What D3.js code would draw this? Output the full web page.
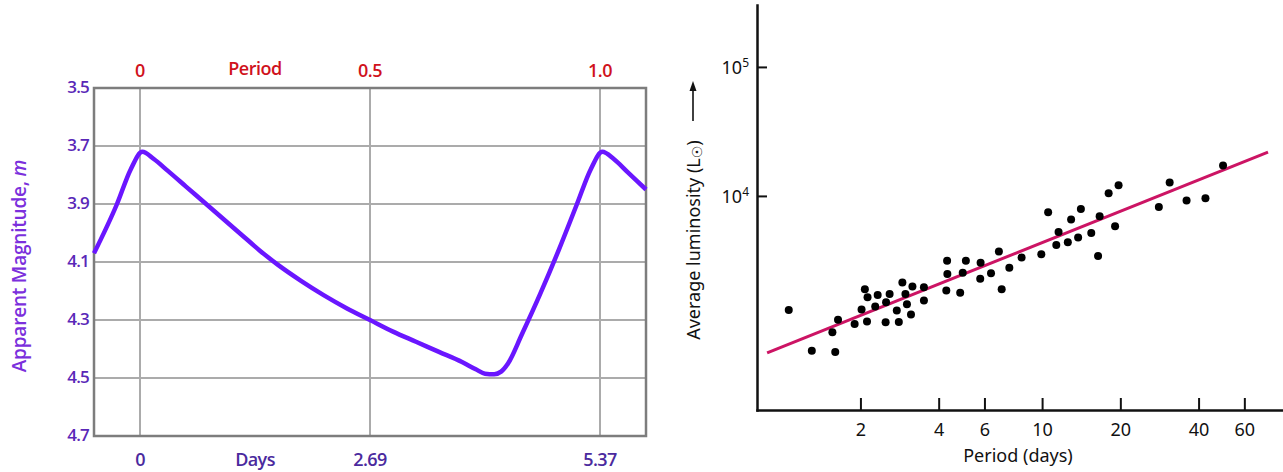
<!DOCTYPE html>
<html>
<head>
<meta charset="utf-8">
<script src="https://cdn.jsdelivr.net/npm/d3@7"></script>
<style>
body { margin: 0; background: #fff; }
svg { display: block; }
</style>
</head>
<body>
<svg id="chart" width="1283" height="472"></svg>
<script>
'use strict';

// ---- light curve (left) ----
var phase = [-0.1, -0.05, -0.02, 0.005, 0.03, 0.06, 0.1, 0.14, 0.18, 0.22, 0.26, 0.30, 0.35, 0.40, 0.45, 0.50,
             0.55, 0.60, 0.65, 0.70, 0.73, 0.75, 0.77, 0.785, 0.80, 0.83, 0.87, 0.91, 0.95, 0.98, 1.005,
             1.03, 1.06, 1.1];
var magnitude = [4.07, 3.90, 3.78, 3.72, 3.745, 3.785, 3.84, 3.895, 3.95, 4.005, 4.06, 4.11, 4.165, 4.215, 4.26, 4.30,
                 4.34, 4.375, 4.41, 4.445, 4.47, 4.485, 4.487, 4.478, 4.45, 4.35, 4.21, 4.06, 3.90, 3.78, 3.72,
                 3.745, 3.79, 3.85];
var magTicks = [3.5, 3.7, 3.9, 4.1, 4.3, 4.5, 4.7];
var phaseTicks = [0, 0.5, 1.0];
var phaseLabels = ["0", "0.5", "1.0"];
var dayLabels = ["0", "2.69", "5.37"];

// ---- period-luminosity (right) ----
var periodDays = [1.06, 1.30, 1.60, 1.56, 1.64, 1.90, 2.02, 2.08, 2.13, 2.12, 2.28, 2.33, 2.50, 2.51, 2.59, 2.76,
                  2.81, 2.90, 2.98, 3.02, 3.13, 3.17, 3.51, 3.51, 4.31, 4.32, 4.28, 4.84, 4.95, 5.09, 5.78, 5.80,
                  6.36, 6.82, 6.99, 7.48, 8.34, 9.93, 11.34, 11.57, 12.56, 12.93, 13.76, 15.46, 16.42, 19.09,
                  10.55, 14.10, 16.65, 18.03, 19.69, 28.13, 30.96, 35.96, 42.51, 49.68];
var luminosity = [1306, 632, 618, 877, 1099, 1018, 1314, 1890, 1640, 1061, 1387, 1709, 1050, 1500, 1738, 1291,
                  1055, 2128, 1738, 1446, 1202, 1982, 1959, 1543, 3150, 2485, 1845, 1778, 2543, 3150, 2275, 3027,
                  2518, 3700, 1890, 2780, 3327, 3532, 4169, 5260, 4375, 6577, 4766, 5168, 3428, 5821,
                  7476, 7930, 6965, 10490, 12100, 8222, 12680, 9200, 9600, 17180];
var fitPeriod = [0.875, 74];
var fitLum = [607, 21880];
var periodTicks = [2, 4, 6, 10, 20, 40, 60];
var lumTicks = [1e4, 1e5];

var svg = d3.select("#chart");
var boldFont = "'Open Sans', sans-serif";
var plainFont = "'Noto Sans', sans-serif";

function drawLightCurve() {
    var x = d3.scaleLinear().domain([-0.1, 1.1]).range([94, 646]);
    var y = d3.scaleLinear().domain([3.5, 4.7]).range([88, 436]);
    var g = svg.append("g");

    // grid
    g.selectAll("line.hgrid")
        .data(magTicks.slice(1, -1))
        .enter().append("line")
        .attr("x1", x(-0.1)).attr("x2", x(1.1))
        .attr("y1", d => y(d)).attr("y2", d => y(d))
        .attr("stroke", "#ababab").attr("stroke-width", 2);
    g.selectAll("line.vgrid")
        .data(phaseTicks)
        .enter().append("line")
        .attr("x1", d => x(d)).attr("x2", d => x(d))
        .attr("y1", y(3.5)).attr("y2", y(4.7))
        .attr("stroke", "#ababab").attr("stroke-width", 2);

    g.append("rect")
        .attr("x", x(-0.1)).attr("y", y(3.5))
        .attr("width", x(1.1) - x(-0.1)).attr("height", y(4.7) - y(3.5))
        .attr("fill", "none").attr("stroke", "#7d7d7d").attr("stroke-width", 2.5);

    var pts = phase.map((p, i) => [p, magnitude[i]]);
    g.append("path")
        .datum(pts)
        .attr("d", d3.line().x(d => x(d[0])).y(d => y(d[1])).curve(d3.curveMonotoneX))
        .attr("fill", "none")
        .attr("stroke", "#6a16ff")
        .attr("stroke-width", 4.5)
        .attr("stroke-linejoin", "round");

    // magnitude labels
    g.selectAll("text.mag")
        .data(magTicks)
        .enter().append("text")
        .attr("x", 89).attr("y", d => y(d) - 2)
        .attr("text-anchor", "end")
        .attr("dominant-baseline", "central")
        .attr("font-family", boldFont).attr("font-weight", 600)
        .attr("font-size", 17).attr("letter-spacing", -0.8)
        .attr("fill", "#5a28b8")
        .text(d => d3.format(".1f")(d));

    // period labels (top)
    g.selectAll("text.per")
        .data(phaseTicks)
        .enter().append("text")
        .attr("x", (d, i) => x(d)).attr("y", 70)
        .attr("text-anchor", "middle").attr("dominant-baseline", "central")
        .attr("font-family", boldFont).attr("font-weight", 600)
        .attr("font-size", 18).attr("letter-spacing", -0.5)
        .attr("fill", "#d0121c")
        .text((d, i) => phaseLabels[i]);
    g.append("text")
        .attr("x", x(0.25)).attr("y", 68)
        .attr("text-anchor", "middle").attr("dominant-baseline", "central")
        .attr("font-family", boldFont).attr("font-weight", 600)
        .attr("font-size", 18).attr("letter-spacing", -0.5)
        .attr("fill", "#d0121c")
        .text("Period");

    // days labels (bottom)
    g.selectAll("text.day")
        .data(phaseTicks)
        .enter().append("text")
        .attr("x", d => x(d)).attr("y", 459)
        .attr("text-anchor", "middle").attr("dominant-baseline", "central")
        .attr("font-family", boldFont).attr("font-weight", 600)
        .attr("font-size", 18).attr("letter-spacing", -0.6)
        .attr("fill", "#4b2a9e")
        .text((d, i) => dayLabels[i]);
    g.append("text")
        .attr("x", x(0.25)).attr("y", 459)
        .attr("text-anchor", "middle").attr("dominant-baseline", "central")
        .attr("font-family", boldFont).attr("font-weight", 600)
        .attr("font-size", 18).attr("letter-spacing", -0.6)
        .attr("fill", "#4b2a9e")
        .text("Days");

    // y title
    var t = g.append("text")
        .attr("transform", "translate(19,266) rotate(-90)")
        .attr("text-anchor", "middle").attr("dominant-baseline", "central")
        .attr("font-family", boldFont).attr("font-weight", 600)
        .attr("font-size", 19).attr("letter-spacing", -0.2)
        .attr("fill", "#7b2fdc");
    t.append("tspan").text("Apparent Magnitude, ");
    t.append("tspan").attr("font-style", "italic").text("m");
}

function drawPeriodLuminosity() {
    var x = d3.scaleLog().domain([0.8, 84.5]).range([757, 1283]);
    var y = d3.scaleLog().domain([219, 302000]).range([410, 5]);
    var g = svg.append("g");

    var xAxis = g.append("g")
        .attr("transform", "translate(0,410)")
        .call(d3.axisBottom(x).tickValues(periodTicks).tickFormat(d3.format("d"))
            .tickSizeInner(-12).tickSizeOuter(0).tickPadding(13));
    var yAxis = g.append("g")
        .attr("transform", "translate(757,0)")
        .call(d3.axisLeft(y).tickValues(lumTicks)
            .tickSizeInner(-10).tickSizeOuter(0).tickPadding(8));

    [xAxis, yAxis].forEach(function(a) {
        a.select(".domain").attr("stroke", "#111").attr("stroke-width", 2.5).attr("stroke-linecap", "square");
        a.selectAll(".tick line").attr("stroke", "#111").attr("stroke-width", 2);
        a.selectAll(".tick text").attr("font-family", plainFont).attr("font-size", 18).attr("fill", "#111");
    });

    yAxis.selectAll(".tick text")
        .text(null)
        .attr("dy", "0.35em")
        .each(function(d) {
            var s = d3.select(this);
            s.append("tspan").text("10");
            s.append("tspan").attr("font-size", 12).attr("dy", "-0.6em")
                .text(Math.round(Math.log10(d)));
        });

    // fit line
    g.append("path")
        .datum(fitPeriod.map((p, i) => [p, fitLum[i]]))
        .attr("d", d3.line().x(d => x(d[0])).y(d => y(d[1])))
        .attr("stroke", "#cc1464")
        .attr("stroke-width", 3)
        .attr("fill", "none");

    g.selectAll("circle")
        .data(periodDays.map((p, i) => [p, luminosity[i]]))
        .enter().append("circle")
        .attr("cx", d => x(d[0]))
        .attr("cy", d => y(d[1]))
        .attr("r", 4)
        .attr("fill", "#000");

    g.append("text")
        .attr("x", 1018).attr("y", 455)
        .attr("text-anchor", "middle").attr("dominant-baseline", "central")
        .attr("font-family", plainFont).attr("font-size", 18).attr("fill", "#111")
        .text("Period (days)");

    var t = g.append("text")
        .attr("transform", "translate(693,240) rotate(-90)")
        .attr("text-anchor", "middle").attr("dominant-baseline", "central")
        .attr("font-family", plainFont).attr("font-size", 18).attr("fill", "#111");
    t.append("tspan").text("Average luminosity (L");
    t.append("tspan").attr("font-family", "'DejaVu Sans'").attr("font-size", 14).attr("dy", 4).text("\u2609");
    t.append("tspan").attr("dy", -4).text(")");

    // arrow beside the title
    g.append("line")
        .attr("x1", 693).attr("x2", 693).attr("y1", 121).attr("y2", 89)
        .attr("stroke", "#111").attr("stroke-width", 1.6);
    g.append("path")
        .attr("d", "M693,81L689.5,91L696.5,91Z")
        .attr("fill", "#111");
}

drawLightCurve();
drawPeriodLuminosity();
</script>
</body>
</html>
